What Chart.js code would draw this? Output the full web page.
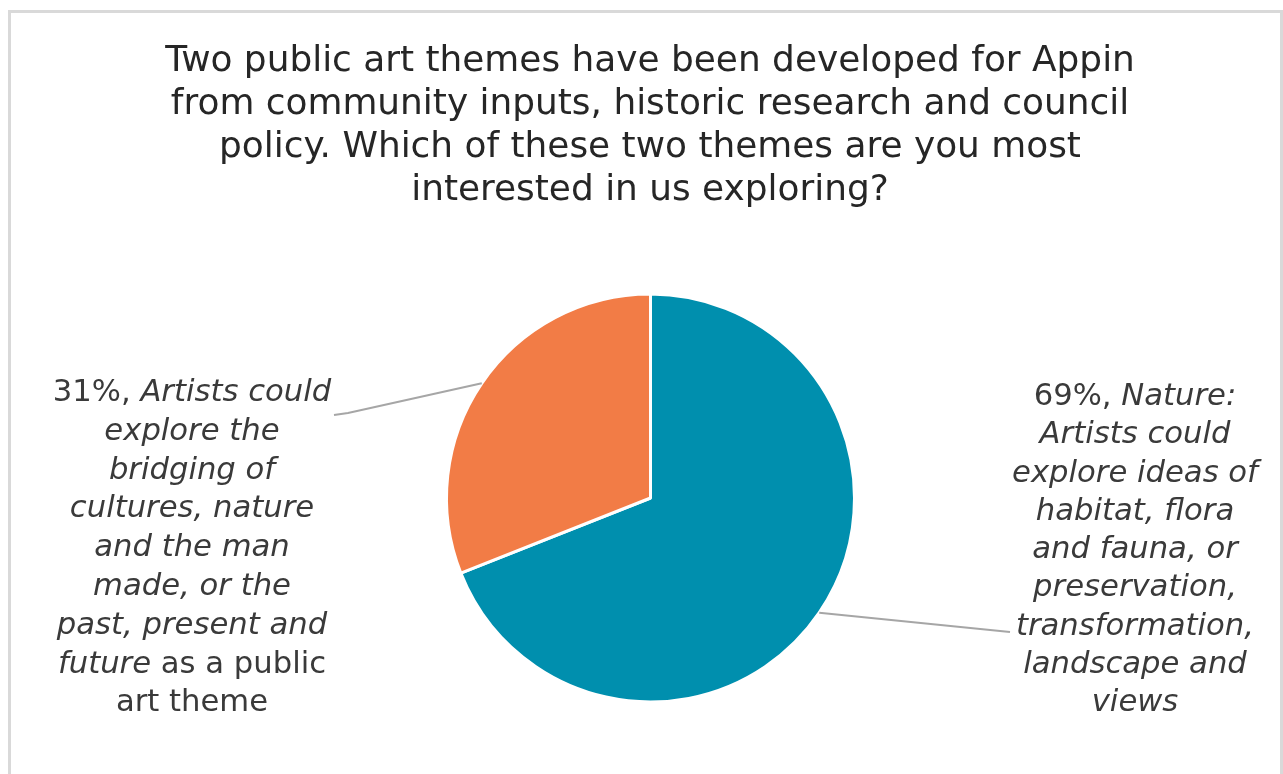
<!DOCTYPE html>
<html>
<head>
<meta charset="utf-8">
<script src="https://cdn.jsdelivr.net/npm/chart.js@4.4.1/dist/chart.umd.min.js"></script>
<style>
html,body{margin:0;padding:0;background:#fff;}
#wrap{position:relative;width:1283px;height:774px;}
canvas{display:block;}
</style>
</head>
<body>
<div id="wrap"><canvas id="c" width="1283" height="774"></canvas></div>
<script>
// ---- data ----
const titleLines = [
  'Two public art themes have been developed for Appin',
  'from community inputs, historic research and council',
  'policy. Which of these two themes are you most',
  'interested in us exploring?'
];
const categories = [
  'Nature: Artists could explore ideas of habitat, flora and fauna, or preservation, transformation, landscape and views',
  'Artists could explore the bridging of cultures, nature and the man made, or the past, present and future as a public art theme'
];
const values = [69, 31];
const sliceColors = ['#008FAE', '#F27C46'];
// label lines: [text, italic]
const labelNature = [
  [['Nature:', true]],
  [['Artists could', true]],
  [['explore ideas of', true]],
  [['habitat, flora', true]],
  [['and fauna, or', true]],
  [['preservation,', true]],
  [['transformation,', true]],
  [['landscape and', true]],
  [['views', true]]
];
const labelCultures = [
  [['Artists could', true]],
  [['explore the', true]],
  [['bridging of', true]],
  [['cultures, nature', true]],
  [['and the man', true]],
  [['made, or the', true]],
  [['past, present and', true]],
  [['future', true], [' as a public', false]],
  [['art theme', false]]
];
const sliceLabels = [labelNature, labelCultures];

// ---- font fitting ----
const FAM = '"DejaVu Sans", sans-serif';
const mctx = document.createElement('canvas').getContext('2d');
mctx.font = '100px ' + FAM;
const titleSize = 100 * 970 / mctx.measureText(titleLines[0]).width;
mctx.font = 'italic 100px ' + FAM;
const labelSize = 100 * 246 / mctx.measureText('explore ideas of').width;

const labelLayout = [
  {cx: 1135, y0: 397, lh: 38.3, end: [[1010, 632]]},
  {cx: 192, y0: 393, lh: 38.8, end: [[348, 413], [334, 415]]}
];

const framePlugin = {
  id: 'frame',
  beforeDraw(chart) {
    const ctx = chart.ctx;
    ctx.save();
    ctx.fillStyle = '#fff';
    ctx.fillRect(0, 0, chart.width, chart.height);
    ctx.strokeStyle = '#D9D9D9';
    ctx.lineWidth = 3;
    ctx.strokeRect(9.5, 11.5, 1272, 800);
    // title
    ctx.fillStyle = '#262626';
    ctx.font = titleSize + 'px ' + FAM;
    ctx.textAlign = 'center';
    ctx.textBaseline = 'middle';
    titleLines.forEach((t, k) => ctx.fillText(t, 650, 62 + k * 43));
    ctx.restore();
  }
};

const labelPlugin = {
  id: 'sliceLabels',
  afterDatasetsDraw(chart) {
    const ctx = chart.ctx;
    const meta = chart.getDatasetMeta(0);
    ctx.save();
    meta.data.forEach((arc, i) => {
      const p = arc.getProps(['x', 'y', 'startAngle', 'endAngle', 'outerRadius'], true);
      const mid = (p.startAngle + p.endAngle) / 2;
      const sx = p.x + Math.cos(mid) * p.outerRadius;
      const sy = p.y + Math.sin(mid) * p.outerRadius;
      const L = labelLayout[i];
      // leader line
      ctx.strokeStyle = '#A6A6A6';
      ctx.lineWidth = 2;
      ctx.beginPath();
      ctx.moveTo(sx, sy);
      L.end.forEach(pt => ctx.lineTo(pt[0], pt[1]));
      ctx.stroke();
      // text
      const lines = sliceLabels[i].map((segs, k) => k === 0 ? [[values[i] + '%, ', false]].concat(segs) : segs);
      ctx.fillStyle = '#3A3A3A';
      ctx.textBaseline = 'middle';
      ctx.textAlign = 'left';
      lines.forEach((segs, k) => {
        let w = 0;
        segs.forEach(s => { ctx.font = (s[1] ? 'italic ' : '') + labelSize + 'px ' + FAM; w += ctx.measureText(s[0]).width; });
        let x = L.cx - w / 2;
        const y = L.y0 + k * L.lh;
        segs.forEach(s => {
          ctx.font = (s[1] ? 'italic ' : '') + labelSize + 'px ' + FAM;
          ctx.fillText(s[0], x, y);
          x += ctx.measureText(s[0]).width;
        });
      });
    });
    ctx.restore();
  }
};

new Chart(document.getElementById('c'), {
  type: 'pie',
  data: {
    labels: categories,
    datasets: [{
      data: values,
      backgroundColor: sliceColors,
      borderColor: '#FFFFFF',
      borderWidth: 3
    }]
  },
  options: {
    responsive: false,
    animation: false,
    layout: {padding: {left: 445, right: 427, top: 292, bottom: 70}},
    plugins: {
      legend: {display: false},
      tooltip: {enabled: false},
      title: {display: false}
    }
  },
  plugins: [framePlugin, labelPlugin]
});
</script>
</body>
</html>
